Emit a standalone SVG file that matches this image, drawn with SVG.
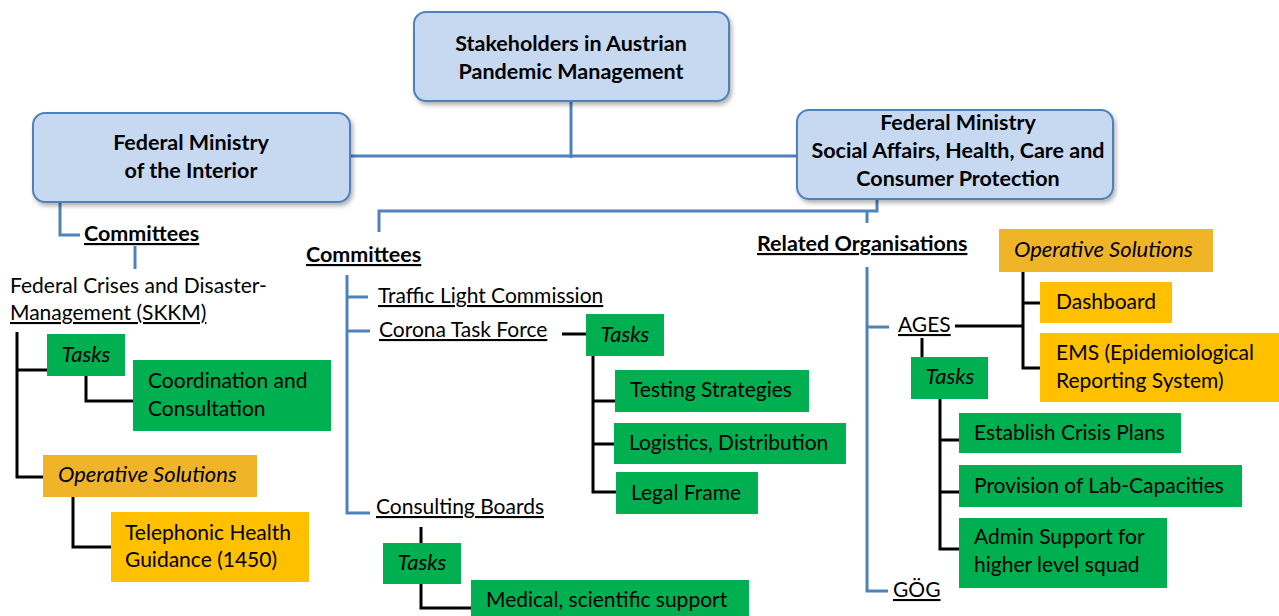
<svg xmlns="http://www.w3.org/2000/svg" width="1279" height="616" viewBox="0 0 1279 616">
<style>
text{font-family:Lato,"Liberation Sans",sans-serif;font-size:21px;fill:#000}
.b{font-weight:bold;font-size:21.5px}
.i{font-style:italic;font-size:22px}
.u{text-decoration:underline}
.c{text-anchor:middle}
.main{fill:#c6d9f1;stroke:#4f81bd;stroke-width:2}
.g{fill:#00b050}
.o{fill:#f0b429}
.y{fill:#ffc000}
.bl{fill:none;stroke:#4f81bd;stroke-width:3}
.k{fill:none;stroke:#000;stroke-width:3}
</style>
<defs>
<filter id="sh" x="-10%" y="-10%" width="120%" height="130%">
<feDropShadow dx="2" dy="3" stdDeviation="2" flood-color="#000" flood-opacity="0.3"/>
</filter>
</defs>
<g id="connectors">
<path class="bl" d="M571 101V158M350 156H797"/>
<path class="bl" d="M60 202V235H80M135 246V269"/>
<path class="bl" d="M877 199V211H379V232M867 211V223"/>
<path class="bl" d="M347 275V513H370M347 297H368M347 331H370"/>
<path class="bl" d="M867 267V591H888M867 327H889"/>
<path class="k" d="M17 332V477H43M17 370H47M86 376V401H133M73 497V547H111"/>
<path class="k" d="M562 334H586M593 356V492H616M593 401H616M593 444H614"/>
<path class="k" d="M421 527V543M421 584V608H471"/>
<path class="k" d="M955 326H1023M1023 272V368H1040M1023 303H1040"/>
<path class="k" d="M922 338V357M940 399V549H959M940 440H959M940 492H959"/>
</g>
<g id="root">
<rect class="main" x="414" y="12" width="315" height="89" rx="12" filter="url(#sh)"/>
<text class="b c" x="571" y="51">Stakeholders in Austrian</text>
<text class="b c" x="571" y="79">Pandemic Management</text>
</g>
<g id="interior">
<rect class="main" x="33" y="113" width="317" height="89" rx="12" filter="url(#sh)"/>
<text class="b c" x="191" y="150">Federal Ministry</text>
<text class="b c" x="191" y="178">of the Interior</text>
</g>
<g id="health">
<rect class="main" x="797" y="110" width="316" height="89" rx="12" filter="url(#sh)"/>
<text class="b c" x="958" y="130">Federal Ministry</text>
<text class="b c" x="958" y="158">Social Affairs, Health, Care and</text>
<text class="b c" x="958" y="186">Consumer Protection</text>
</g>
<g id="committees-left">
<text class="b u" x="84" y="241">Committees</text>
</g>
<g id="skkm">
<text x="10" y="293">Federal Crises and Disaster-</text>
<text class="u" x="10" y="320">Management (SKKM)</text>
</g>
<g id="skkm-tasks">
<rect class="g" x="47" y="334" width="78" height="42"/>
<text class="i c" x="86" y="362">Tasks</text>
</g>
<g id="coordination">
<rect class="g" x="133" y="360" width="198" height="71"/>
<text x="148" y="388">Coordination and</text>
<text x="148" y="416">Consultation</text>
</g>
<g id="skkm-operative">
<rect class="o" x="43" y="455" width="214" height="42"/>
<text class="i" x="58" y="482">Operative Solutions</text>
</g>
<g id="telephonic">
<rect class="y" x="111" y="512" width="198" height="70"/>
<text x="125" y="540">Telephonic Health</text>
<text x="125" y="567">Guidance (1450)</text>
</g>
<g id="committees-mid">
<text class="b u" x="306" y="262">Committees</text>
</g>
<g id="traffic">
<text class="u" x="378" y="303">Traffic Light Commission</text>
</g>
<g id="corona">
<text class="u" x="379" y="337">Corona Task Force</text>
</g>
<g id="corona-tasks">
<rect class="g" x="586" y="314" width="78" height="42"/>
<text class="i c" x="625" y="342">Tasks</text>
</g>
<g id="testing">
<rect class="g" x="615" y="370" width="194" height="42"/>
<text x="630" y="397">Testing Strategies</text>
</g>
<g id="logistics">
<rect class="g" x="614" y="423" width="232" height="41"/>
<text x="629" y="450">Logistics, Distribution</text>
</g>
<g id="legal">
<rect class="g" x="616" y="472" width="142" height="42"/>
<text x="631" y="500">Legal Frame</text>
</g>
<g id="consulting">
<text class="u" x="376" y="514">Consulting Boards</text>
</g>
<g id="consulting-tasks">
<rect class="g" x="383" y="543" width="78" height="41"/>
<text class="i c" x="422" y="570">Tasks</text>
</g>
<g id="medical">
<rect class="g" x="471" y="580" width="278" height="40"/>
<text x="486" y="607">Medical, scientific support</text>
</g>
<g id="related">
<text class="b u" x="757" y="251">Related Organisations</text>
</g>
<g id="ages">
<text class="u" x="898" y="332">AGES</text>
</g>
<g id="ages-operative">
<rect class="o" x="999" y="229" width="214" height="43"/>
<text class="i" x="1014" y="257">Operative Solutions</text>
</g>
<g id="dashboard">
<rect class="y" x="1040" y="282" width="132" height="41"/>
<text x="1056" y="309">Dashboard</text>
</g>
<g id="ems">
<rect class="y" x="1040" y="333" width="239" height="69"/>
<text x="1056" y="360">EMS (Epidemiological</text>
<text x="1056" y="388">Reporting System)</text>
</g>
<g id="ages-tasks">
<rect class="g" x="911" y="357" width="77" height="42"/>
<text class="i c" x="950" y="384">Tasks</text>
</g>
<g id="crisis">
<rect class="g" x="959" y="413" width="222" height="40"/>
<text x="974" y="440">Establish Crisis Plans</text>
</g>
<g id="lab">
<rect class="g" x="959" y="465" width="283" height="42"/>
<text x="974" y="493">Provision of Lab-Capacities</text>
</g>
<g id="admin">
<rect class="g" x="959" y="518" width="208" height="70"/>
<text x="974" y="544">Admin Support for</text>
<text x="974" y="572">higher level squad</text>
</g>
<g id="gog">
<text class="u" x="893" y="597">GÖG</text>
</g>
</svg>
